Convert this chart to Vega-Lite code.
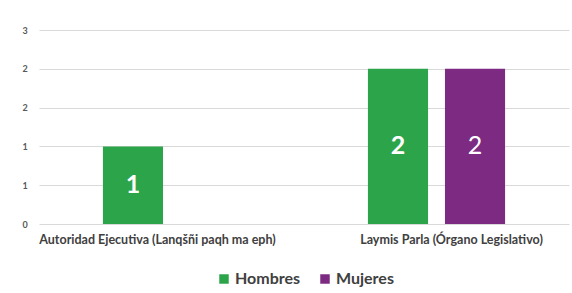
{
  "$schema": "https://vega.github.io/schema/vega-lite/v6.json",
  "autosize": "none",
  "padding": {"left": 39, "top": 30, "right": 3, "bottom": 69},
  "width": 530,
  "height": 194,
  "background": "white",
  "config": {"view": {"stroke": null}, "font": "Lato"},
  "data": {"values": [
    {"cargo": "Autoridad Ejecutiva (Lanqšñi paqh ma eph)", "sexo": "Hombres", "valor": 1},
    {"cargo": "Laymis Parla (Órgano Legislativo)", "sexo": "Hombres", "valor": 2},
    {"cargo": "Laymis Parla (Órgano Legislativo)", "sexo": "Mujeres", "valor": 2}
  ]},
  "encoding": {
    "x": {"field": "cargo", "type": "nominal", "sort": null,
      "scale": {"paddingInner": 0, "paddingOuter": 0},
      "axis": {"title": null, "labelAngle": 0, "domain": false, "ticks": false, "labelPadding": 9,
        "labelOffset": {"condition": {"test": "indexof(datum.label, 'Autoridad') >= 0", "value": -14}, "value": 15},
        "labelFont": "Lato", "labelFontWeight": "bold", "labelFontSize": 12.5, "labelColor": "#404040", "labelLimit": 300}},
    "xOffset": {"field": "sexo", "type": "nominal", "sort": ["Hombres", "Mujeres"],
      "scale": {"paddingInner": 0.22, "paddingOuter": 0.83}}
  },
  "layer": [
    {
      "mark": {"type": "bar"},
      "encoding": {
        "y": {"field": "valor", "type": "quantitative",
          "scale": {"domain": [0, 2.5], "nice": false},
          "axis": {"title": null, "values": [0, 0.5, 1, 1.5, 2, 2.5], "labelExpr": "toString(round(datum.value))",
            "labelOverlap": false, "tickMinStep": 0.5,
            "domain": false, "ticks": false, "labelPadding": 17, "labelAlign": "left",
            "labelFont": "Lato", "labelFontWeight": "bold", "labelFontSize": 9, "labelColor": "#595959",
            "gridColor": "#d9d9d9", "gridWidth": 1}},
        "color": {"field": "sexo", "type": "nominal",
          "scale": {"domain": ["Hombres", "Mujeres"], "range": ["#2ca54a", "#7d2a83"]},
          "legend": {"title": null, "orient": "none", "legendX": 177, "legendY": 241, "direction": "horizontal",
            "symbolType": "square", "symbolSize": 90, "symbolStrokeWidth": 0, "symbolOpacity": 1,
            "labelFont": "Lato", "labelFontSize": 16, "labelFontWeight": "bold", "labelColor": "#404040",
            "columnPadding": 16, "labelOffset": 3}}
      }
    },
    {
      "transform": [{"filter": "datum.sexo == 'Hombres'"}],
      "mark": {"type": "text", "color": "white", "fontSize": 25, "fontWeight": "bold", "font": "Lato", "baseline": "middle",
        "y": {"expr": "scale('y', datum.valor / 2)"}},
      "encoding": {
        "text": {"field": "valor", "type": "quantitative"}
      }
    },
    {
      "transform": [{"filter": "datum.sexo == 'Mujeres'"}],
      "mark": {"type": "text", "color": "white", "fontSize": 25, "fontWeight": "normal", "font": "Lato", "baseline": "middle",
        "y": {"expr": "scale('y', datum.valor / 2)"}},
      "encoding": {
        "text": {"field": "valor", "type": "quantitative"}
      }
    }
  ]
}
